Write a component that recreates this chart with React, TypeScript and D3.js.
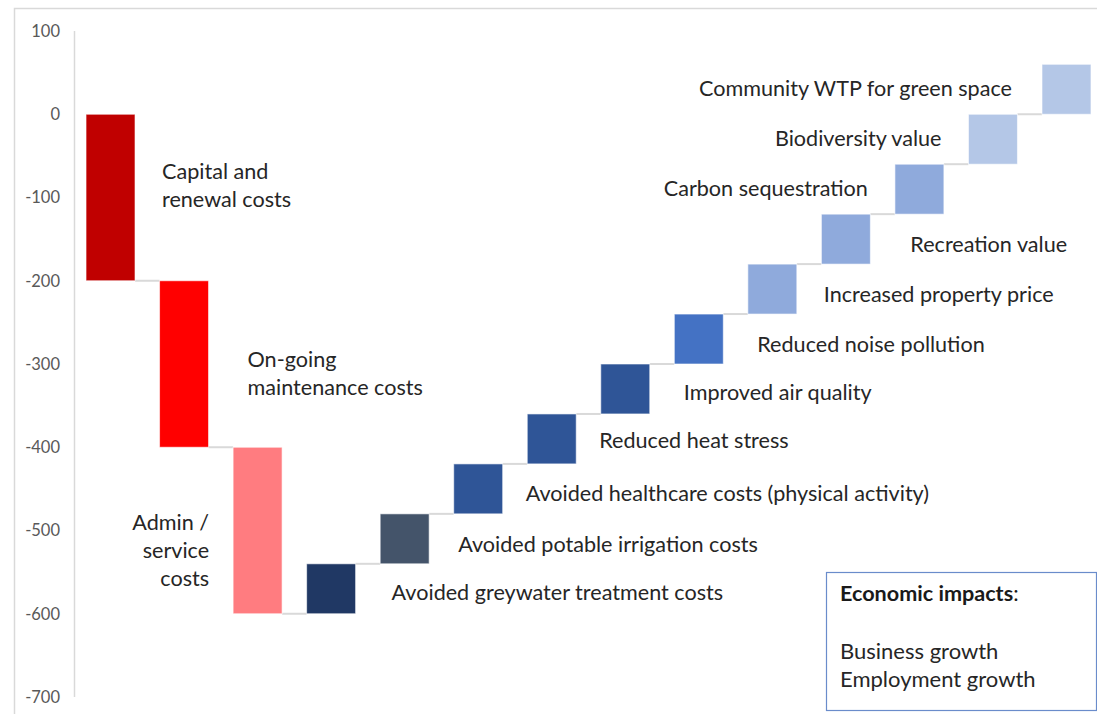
import React from "react";
import * as d3 from "d3";

const categories = [
  "Capital and renewal costs",
  "On-going maintenance costs",
  "Admin / service costs",
  "Avoided greywater treatment costs",
  "Avoided potable irrigation costs",
  "Avoided healthcare costs (physical activity)",
  "Reduced heat stress",
  "Improved air quality",
  "Reduced noise pollution",
  "Increased property price",
  "Recreation value",
  "Carbon sequestration",
  "Biodiversity value",
  "Community WTP for green space",
];
const values = [-200, -200, -200, 60, 60, 60, 60, 60, 60, 60, 60, 60, 60, 60];
const labelLines = [
  ["Capital and", "renewal costs"],
  ["On-going", "maintenance costs"],
  ["Admin /", "service", "costs"],
  ["Avoided greywater treatment costs"],
  ["Avoided potable irrigation costs"],
  ["Avoided healthcare costs (physical activity)"],
  ["Reduced heat stress"],
  ["Improved air quality"],
  ["Reduced noise pollution"],
  ["Increased property price"],
  ["Recreation value"],
  ["Carbon sequestration"],
  ["Biodiversity value"],
  ["Community WTP for green space"],
];
const yTicks = [100, 0, -100, -200, -300, -400, -500, -600, -700];
const boxTitle = "Economic impacts";
const boxLines = ["Business growth", "Employment growth"];

// style / layout (not data)
const colors = [
  "#C00000", "#FF0000", "#FF7C80", "#203864", "#44546A", "#2F5597", "#2F5597",
  "#2F5597", "#4472C4", "#8FAADC", "#8FAADC", "#8FAADC", "#B4C7E7", "#B4C7E7",
];
// label placement: side ("r" = right of bar, start; "l" = left of bar, end), dx gap, dy from bar centre
const labelPlace: [string, number, number][] = [
  ["r", 27, -12],
  ["r", 39, 9],
  ["l", 24, 20],
  ["r", 36, 4],
  ["r", 29, 6],
  ["r", 23, 5],
  ["r", 23, 2],
  ["r", 34, 3],
  ["r", 34, 5],
  ["r", 27, 5],
  ["r", 40, 5],
  ["l", 27, -1],
  ["l", 27, -1],
  ["l", 30, -1],
];

const W = 1097;
const H = 714;
const FONT = "Lato, 'Open Sans', sans-serif";
const FS = 21.6;

export default function App() {
  const y = d3.scaleLinear().domain([-700, 100]).range([697, 31]);
  const x = d3
    .scaleBand<number>()
    .domain(d3.range(categories.length))
    .range([75, 1102])
    .paddingInner(0.334)
    .paddingOuter(0.15);
  const bw = x.bandwidth();

  let cum = 0;
  const bars = values.map((v, i) => {
    const start = cum;
    cum += v;
    return { i, start, end: cum };
  });
  const lineH = 28;

  return (
    <svg
      width={W}
      height={H}
      style={{ position: "absolute", left: 0, top: 0, background: "#fff" }}
      fontFamily={FONT}
    >
      <rect x={14.5} y={8.5} width={1100} height={720} fill="none" stroke="#D9D9D9" strokeWidth={1.5} />
      <line x1={74.5} x2={74.5} y1={y(100)} y2={y(-700)} stroke="#D9D9D9" strokeWidth={1.5} />
      {yTicks.map((t) => (
        <text key={t} x={60} y={y(t)} dy="0.35em" textAnchor="end" fontSize={16.5} fill="#595959">
          {t}
        </text>
      ))}
      {bars.slice(0, -1).map((b) => (
        <line
          key={"c" + b.i}
          x1={(x(b.i) as number) + bw}
          x2={x(b.i + 1) as number}
          y1={y(b.end)}
          y2={y(b.end)}
          stroke="#D9D9D9"
          strokeWidth={2}
        />
      ))}
      {bars.map((b) => {
        const top = y(Math.max(b.start, b.end));
        const bot = y(Math.min(b.start, b.end));
        return (
          <rect
            key={"b" + b.i}
            x={x(b.i)}
            y={top}
            width={bw}
            height={bot - top}
            fill={colors[b.i]}
            stroke="#ffffff"
            strokeOpacity={0.6}
            strokeWidth={1}
          />
        );
      })}
      {bars.map((b) => {
        const [side, dx, dy] = labelPlace[b.i];
        const lines = labelLines[b.i];
        const cy = (y(b.start) + y(b.end)) / 2 + dy;
        const bx = x(b.i) as number;
        const tx = side === "r" ? bx + bw + dx : bx - dx;
        const y0 = cy - ((lines.length - 1) * lineH) / 2;
        return (
          <text
            key={"l" + b.i}
            x={tx}
            textAnchor={side === "r" ? "start" : "end"}
            fontSize={FS}
            fill="#262626"
          >
            {lines.map((ln, k) => (
              <tspan key={k} x={tx} y={y0 + k * lineH} dy="0.35em">
                {ln}
              </tspan>
            ))}
          </text>
        );
      })}
      <rect x={826.5} y={572.5} width={270} height={138} fill="#fff" stroke="#6A8CCB" strokeWidth={1.2} />
      <text x={840} y={593} dy="0.35em" fontSize={FS} fill="#1a1a1a">
        <tspan fontWeight="bold">{boxTitle}</tspan>
        <tspan>:</tspan>
      </text>
      {boxLines.map((t, k) => (
        <text key={t} x={840} y={651 + k * 28} dy="0.35em" fontSize={FS + 0.4} fill="#262626">
          {t}
        </text>
      ))}
    </svg>
  );
}
